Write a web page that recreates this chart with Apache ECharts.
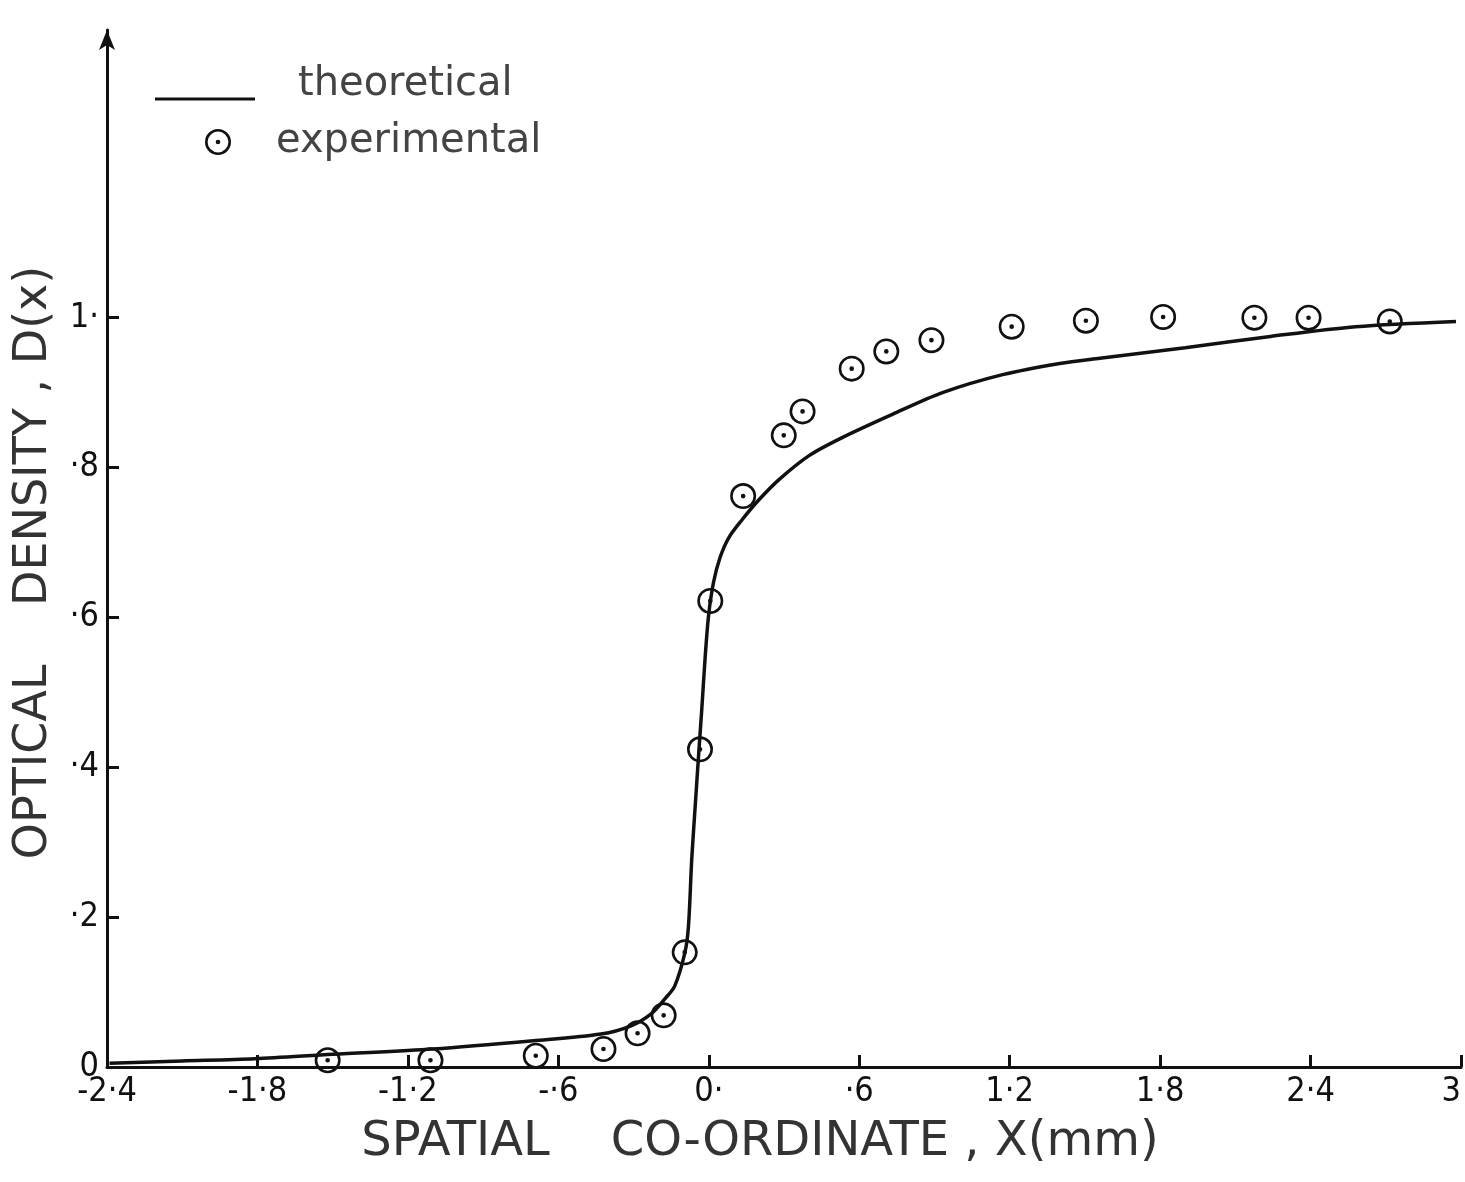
<!DOCTYPE html>
<html>
<head>
<meta charset="utf-8">
<title>Optical density vs spatial co-ordinate</title>
<script src="https://cdn.jsdelivr.net/npm/echarts@6/dist/echarts.min.js"></script>
<style>
    html, body { margin: 0; padding: 0; background: #fff; }
    #chart { width: 1465px; height: 1182px; }
</style>
</head>
<body>
<div id="chart"></div>
<script>
// tick values and their hand-written labels
const xTickValues = [-2.4, -1.8, -1.2, -0.6, 0, 0.6, 1.2, 1.8, 2.4, 3];
const xTickLabels = ['-2·4', '-1·8', '-1·2', '-·6', '0·', '·6', '1·2', '1·8', '2·4', '3'];
const yTickValues = [0, 0.2, 0.4, 0.6, 0.8, 1];
const yTickLabels = ['0', '·2', '·4', '·6', '·8', '1·'];

// theoretical curve
const theoryX = [-2.39, -2.1, -1.81, -1.5, -1.1, -0.7, -0.43, -0.31, -0.23, -0.175, -0.136, -0.095, -0.081,
    -0.068, -0.055, -0.039, -0.028, -0.015, -0.001, 0.019, 0.045, 0.079, 0.132, 0.2, 0.28, 0.4, 0.532,
    0.732, 0.932, 1.172, 1.4, 1.56, 1.9, 2.24, 2.58, 2.98];
const theoryY = [0.005, 0.008, 0.011, 0.017, 0.024, 0.035, 0.044, 0.055, 0.071, 0.091, 0.108, 0.153, 0.188,
    0.277, 0.344, 0.424, 0.477, 0.544, 0.602, 0.647, 0.68, 0.706, 0.73, 0.757, 0.784, 0.816, 0.84,
    0.871, 0.9, 0.924, 0.939, 0.946, 0.96, 0.975, 0.988, 0.995];

// experimental points
const expX = [-1.52, -1.11, -0.69, -0.42, -0.284, -0.18, -0.096, -0.035, 0.006, 0.137, 0.299, 0.374,
    0.57, 0.708, 0.888, 1.208, 1.504, 1.812, 2.176, 2.392, 2.716];
const expY = [0.009, 0.009, 0.015, 0.024, 0.045, 0.069, 0.153, 0.424, 0.622, 0.762, 0.843, 0.875,
    0.932, 0.955, 0.970, 0.988, 0.996, 1.001, 1.0, 1.0, 0.995];

const FONT = "'DejaVu Sans Condensed', 'Liberation Sans Narrow', 'DejaVu Sans', sans-serif";
const WIDE_FONT = "'DejaVu Sans', 'Liberation Sans', sans-serif";
const INK = '#111';

// circle with a dot in the middle
const dotCircle = 'path://M0,-10A10,10 0 1,1 0,10A10,10 0 1,1 0,-10Z' +
    'M0,-8A8,8 0 1,0 0,8A8,8 0 1,0 0,-8Z' +
    'M0,-1.8A1.8,1.8 0 1,1 0,1.8A1.8,1.8 0 1,1 0,-1.8Z';
// legend stroke, sitting a little below the text middle
const legendLine = 'path://M0,0L0,0M0,28L100,28L100,31L0,31Z';

function labelFor(values, labels, v) {
    const i = values.findIndex(t => Math.abs(t - v) < 1e-6);
    return i >= 0 ? labels[i] : '';
}

const chart = echarts.init(document.getElementById('chart'));

chart.setOption({
    backgroundColor: '#fff',
    animation: false,
    legend: [
        {
            data: [{ name: 'theoretical', icon: legendLine }],
            left: 150,
            top: 60,
            itemWidth: 100,
            itemHeight: 31,
            textStyle: { fontFamily: WIDE_FONT, fontSize: 40, color: '#444', padding: [0, 0, 0, 38] }
        },
        {
            data: ['experimental'],
            left: 200,
            top: 117,
            itemWidth: 26,
            itemHeight: 26,
            textStyle: { fontFamily: WIDE_FONT, fontSize: 40, color: '#444', padding: [0, 0, 0, 40] }
        }
    ],
    grid: { left: 107, right: 4, top: 30, bottom: 115, containLabel: false },
    xAxis: {
        type: 'value',
        min: -2.4,
        max: 3,
        name: 'SPATIAL    CO-ORDINATE , X(mm)',
        nameLocation: 'middle',
        nameGap: 52,
        nameTextStyle: { fontFamily: WIDE_FONT, fontSize: 48, color: '#333', padding: [0, 48, 0, 0] },
        axisLine: { onZero: false, lineStyle: { color: INK, width: 3 } },
        axisTick: { inside: true, length: 12, lineStyle: { color: INK, width: 3 }, customValues: xTickValues },
        axisLabel: {
            customValues: xTickValues,
            margin: 8,
            fontFamily: FONT,
            fontSize: 34,
            color: INK,
            alignMaxLabel: 'right',
            formatter: v => labelFor(xTickValues, xTickLabels, v)
        },
        splitLine: { show: false }
    },
    yAxis: {
        type: 'value',
        min: 0,
        max: 1.384,
        name: 'OPTICAL    DENSITY , D(x)',
        nameLocation: 'middle',
        nameRotate: 90,
        nameGap: 50,
        nameTextStyle: { fontFamily: WIDE_FONT, fontSize: 46, color: '#333', padding: [0, 28, 0, 0] },
        axisLine: {
            show: true,
            onZero: false,
            symbol: ['none', 'arrow'],
            symbolSize: [12, 20],
            lineStyle: { color: INK, width: 3 }
        },
        axisTick: { show: true, inside: true, length: 12, lineStyle: { color: INK, width: 3 }, customValues: yTickValues },
        axisLabel: {
            customValues: yTickValues,
            margin: 8,
            fontFamily: FONT,
            fontSize: 34,
            color: INK,
            formatter: v => labelFor(yTickValues, yTickLabels, v)
        },
        splitLine: { show: false }
    },
    series: [
        {
            name: 'theoretical',
            type: 'line',
            data: theoryX.map((x, i) => [x, theoryY[i]]),
            symbol: 'none',
            smooth: 0.3,
            lineStyle: { color: INK, width: 3.5 },
            itemStyle: { color: INK },
            z: 2
        },
        {
            name: 'experimental',
            type: 'scatter',
            data: expX.map((x, i) => [x, expY[i]]),
            symbol: dotCircle,
            symbolSize: 26,
            itemStyle: { color: INK, opacity: 1 },
            z: 3
        }
    ]
});
</script>
</body>
</html>
